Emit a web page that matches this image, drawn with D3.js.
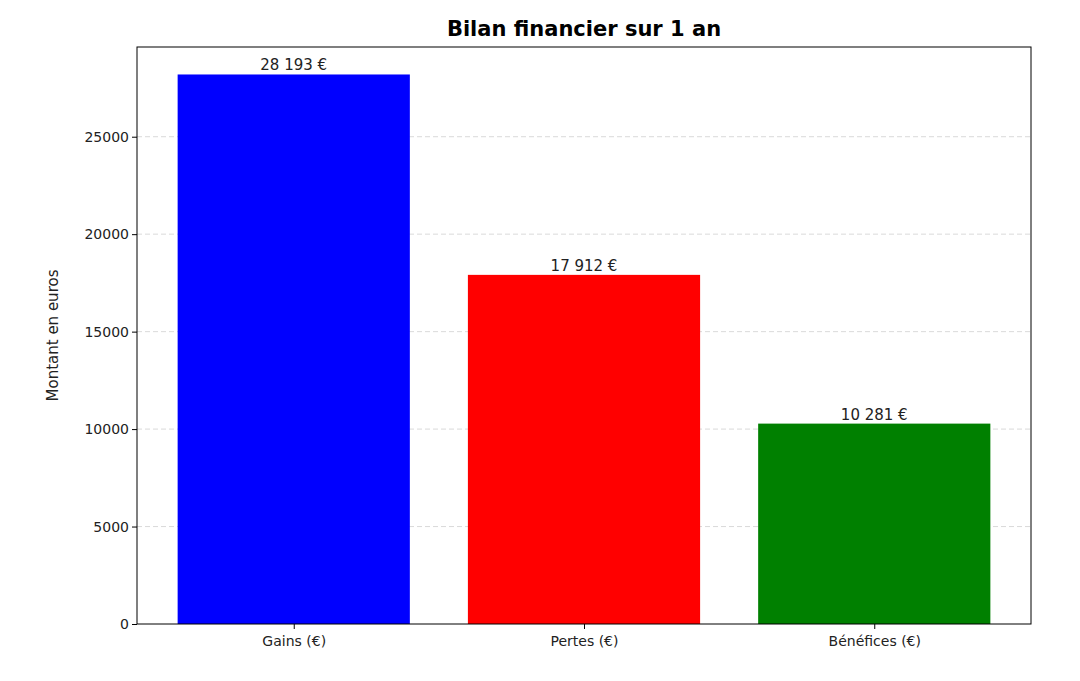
<!DOCTYPE html>
<html lang="en">
<head>
<meta charset="UTF-8">
<script src="https://d3js.org/d3.v7.min.js"></script>
<style>
  body { margin: 0; background: #fff; }
  text { font-family: "DejaVu Sans", sans-serif; }
</style>
</head>
<body>
<script>
// data
const categories = ["Gains (€)", "Pertes (€)", "Bénéfices (€)"];
const values = [28193, 17912, 10281];
const colors = ["blue", "red", "green"];
const yTicks = [0, 5000, 10000, 15000, 20000, 25000];

const width = 1080, height = 681;
const mLeft = 137, mRight = 1031, mTop = 47, mBottom = 624;

const svg = d3.select("body").append("svg")
    .attr("width", width).attr("height", height);

// matplotlib-like x: bars centred on 0,1,2, width 0.8, 5% margins
const x = d3.scaleLinear().domain([-0.54, 2.54]).range([mLeft, mRight]);
const y = d3.scaleLinear().domain([0, d3.max(values) * 1.05]).range([mBottom, mTop]);

// grid
svg.append("g").selectAll("line")
    .data(yTicks.slice(1))
    .enter().append("line")
    .attr("x1", mLeft).attr("x2", mRight)
    .attr("y1", d => y(d)).attr("y2", d => y(d))
    .attr("stroke", "#b0b0b0").attr("stroke-opacity", 0.6)
    .attr("stroke-dasharray", "5,3").attr("stroke-width", 0.8);

// bars
svg.append("g").selectAll("rect")
    .data(values)
    .enter().append("rect")
    .attr("x", (d, i) => x(i - 0.4))
    .attr("width", x(0.4) - x(-0.4))
    .attr("y", d => y(d))
    .attr("height", d => mBottom - y(d))
    .attr("fill", (d, i) => colors[i]);

// value labels
const fmt = v => d3.format(",")(v).replace(/,/g, " ") + " €";
svg.append("g").selectAll("text")
    .data(values)
    .enter().append("text")
    .attr("x", (d, i) => x(i))
    .attr("y", d => y(d) - 4)
    .attr("text-anchor", "middle")
    .attr("font-size", 15)
    .attr("fill", "#222")
    .text(fmt);

// axes
svg.append("g")
    .attr("transform", `translate(0,${mBottom})`)
    .call(d3.axisBottom(x).tickValues([0, 1, 2]).tickFormat(i => categories[i]).tickSize(5).tickSizeOuter(0))
    .call(g => g.selectAll("text").attr("font-size", 14).attr("dy", "1em").attr("fill", "#222"));
svg.append("g")
    .attr("transform", `translate(${mLeft},0)`)
    .call(d3.axisLeft(y).tickValues(yTicks).tickFormat(d3.format("d")).tickSize(5).tickSizeOuter(0))
    .call(g => g.selectAll("text").attr("font-size", 14).attr("fill", "#222"));
svg.selectAll(".domain").remove();

// frame
svg.append("rect")
    .attr("x", mLeft).attr("y", mTop)
    .attr("width", mRight - mLeft).attr("height", mBottom - mTop)
    .attr("fill", "none").attr("stroke", "#000").attr("stroke-width", 1);

// title and y label
svg.append("text")
    .attr("x", (mLeft + mRight) / 2).attr("y", 36)
    .attr("text-anchor", "middle")
    .attr("font-size", 21).attr("font-weight", "bold")
    .text("Bilan financier sur 1 an");
svg.append("text")
    .attr("transform", `translate(58,${(mTop + mBottom) / 2}) rotate(-90)`)
    .attr("text-anchor", "middle")
    .attr("font-size", 15).attr("fill", "#222")
    .text("Montant en euros");
</script>
</body>
</html>
